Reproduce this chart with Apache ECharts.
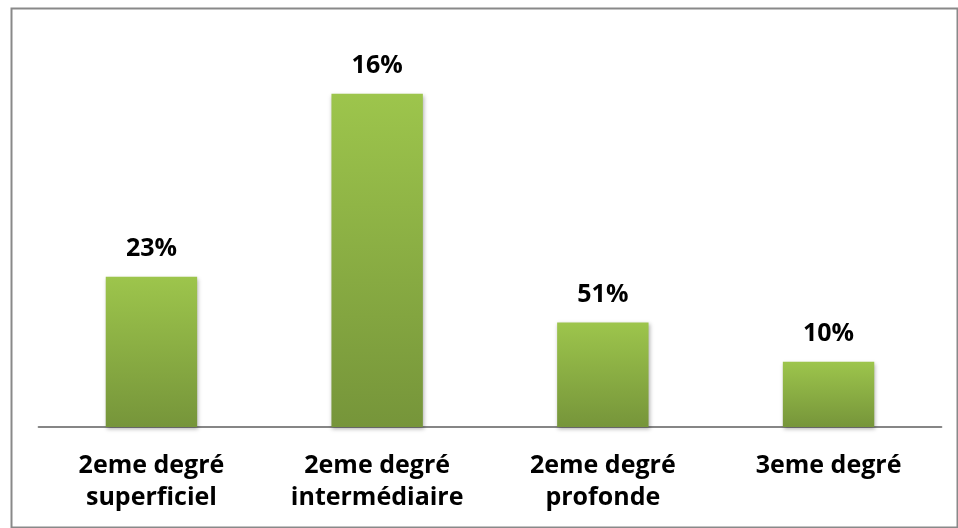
<!DOCTYPE html>
<html><head><meta charset="utf-8">
<script src="https://cdn.jsdelivr.net/npm/echarts@6/dist/echarts.min.js"></script>
<style>html,body{margin:0;padding:0;background:#fff}#c{width:958px;height:528px}</style>
</head><body><div id="c"></div>
<script>
const categories = ['2eme degré\nsuperficiel', '2eme degré\nintermédiaire', '2eme degré\nprofonde', '3eme degré'];
const values = [23, 51, 16, 10];
const labels = ['23%', '16%', '51%', '10%'];

const chart = echarts.init(document.getElementById('c'));
chart.setOption({
  animation: false,
  backgroundColor: '#fff',
  graphic: [{
    type: 'rect', left: 9, top: 6,
    shape: { width: 946, height: 519 },
    style: { fill: 'none', stroke: '#898989', lineWidth: 2 }
  }],
  grid: { left: 38.6, right: 16.6, top: 35, bottom: 101 },
  xAxis: {
    type: 'category', data: categories,
    axisTick: { show: false },
    axisLine: { lineStyle: { color: '#868686', width: 2 } },
    axisLabel: { color: '#000', fontFamily: 'Open Sans', fontWeight: 'bold', fontSize: 25, lineHeight: 32, margin: 23 }
  },
  yAxis: { type: 'value', min: 0, max: 60, show: false, splitLine: { show: false } },
  series: [{
    type: 'bar', data: values, barWidth: '40.5%',
    itemStyle: {
      color: new echarts.graphic.LinearGradient(0, 0, 0, 1, [
        { offset: 0, color: '#9dc54c' }, { offset: 1, color: '#76953a' }
      ]),
      shadowColor: 'rgba(0,0,0,0.3)', shadowBlur: 4, shadowOffsetX: 1, shadowOffsetY: 2
    },
    label: {
      show: true, position: 'top', distance: 15,
      formatter: p => labels[p.dataIndex],
      color: '#000', fontFamily: 'Open Sans', fontWeight: 'bold', fontSize: 25, lineHeight: 26
    }
  }]
});
</script></body></html>
